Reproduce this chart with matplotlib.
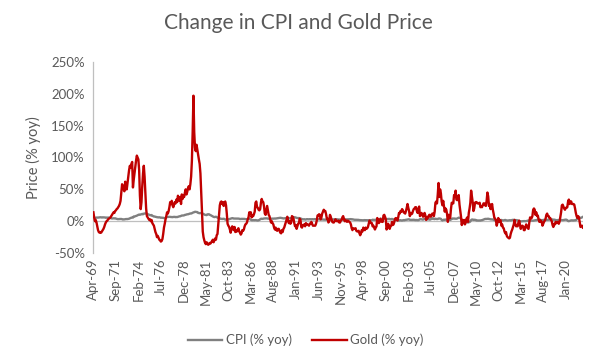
import numpy as np
import pandas as pd
import matplotlib
matplotlib.use("Agg")
import matplotlib.pyplot as plt
from matplotlib.ticker import FuncFormatter

plt.rcParams['font.family'] = ['Lato', 'DejaVu Sans']

# monthly series, Apr-1969 .. Nov-2021 (% yoy), one row per calendar year
gold_yoy = [
    14, 6, 0, 2, -2, -8, -14, -17, -18,                        # 1969 (Apr-Dec)
    -17, -18, -16, -14, -12, -9, -5, -2, 0, 1, 3, 4,            # 1970
    5, 6, 8, 10, 12, 14, 13, 16, 17, 19, 20, 22,                # 1971
    24, 27, 32, 45, 58, 55, 50, 47, 62, 55, 50, 60,             # 1972
    70, 80, 87, 84, 90, 93, 53, 65, 75, 85, 95, 103,            # 1973
    100, 97, 80, 40, 19, 30, 55, 75, 87, 70, 45, 20,            # 1974
    8, 6, 4, 2, 3, 0, 2, -3, -5, -7, -12, -17,                  # 1975
    -20, -25, -23, -26, -29, -30, -32, -31, -28, -20, -10, -4,  # 1976
    3, 8, 14, 12, 16, 22, 30, 27, 32, 25, 22, 26,               # 1977
    30, 28, 34, 30, 40, 36, 32, 38, 27, 42, 35, 40,             # 1978
    38, 45, 50, 42, 46, 52, 55, 50, 58, 70, 95, 140,            # 1979
    197, 140, 115, 110, 120, 112, 105, 97, 90, 75, 47, 16,      # 1980
    -16, -25, -30, -34, -36, -33, -35, -37, -36, -34, -35, -33, # 1981
    -31, -29, -33, -30, -27, -29, -22, -20, -5, 8, 25, 30,      # 1982
    31, 27, 30, 24, 29, 31, 25, 12, -4, -7, -9, -13,            # 1983
    -18, -12, -8, -12, -14, -9, -17, -15, -16, -13, -11, -16,   # 1984
    -18, -21, -19, -14, -15, -13, -8, -5, -4, -2, 3, 6,         # 1985
    14, 12, 14, 6, 9, 8, 11, 15, 29, 31, 22, 21,                # 1986
    18, 17, 19, 29, 35, 31, 30, 23, 12, 10, 17, 24,             # 1987
    17, 10, 8, 3, -2, 0, -3, -5, -10, -13, -10, -14,            # 1988
    -15, -12, -12, -15, -18, -19, -14, -17, -12, -10, -6, -2,   # 1989
    2, 7, 1, -3, 0, -4, -2, 8, 7, 4, -3, -8,                    # 1990
    -6, -12, -8, -4, -3, 4, 2, -9, -10, -6, -6, -5,             # 1991
    -8, -3, -5, -5, -6, -7, -4, -4, -1, -4, -7, -7,             # 1992
    -7, -7, -4, 1, 9, 9, 11, 10, 3, 6, 12, 15,                  # 1993
    18, 16, 16, 11, 4, 4, -2, 0, 10, 7, 3, -1,                  # 1994
    -2, -2, 0, 3, 1, 0, 0, 1, -2, -2, 1, 2,                     # 1995
    6, 8, 4, 0, 2, 0, -1, 1, 0, -1, -2, -5,                     # 1996
    -11, -14, -11, -12, -12, -11, -15, -16, -16, -15, -19, -22, # 1997
    -19, -14, -16, -10, -13, -14, -10, -12, -11, -9, -4, 1,     # 1998
    -1, -3, -3, -8, -7, -10, -13, -10, -8, 5, 0, -3,            # 1999
    -1, 4, 0, -1, -1, 9, 10, 7, 3, -13, -9, -4,                 # 2000
    -7, -12, -8, -7, -1, -6, -5, -1, 4, 5, 4, 1,                # 2001
    6, 13, 12, 16, 15, 19, 17, 14, 13, 12, 16, 21,              # 2002
    27, 21, 16, 8, 13, 11, 12, 16, 19, 20, 22, 22,              # 2003
    16, 13, 19, 23, 8, 10, 13, 11, 7, 11, 13, 9,                # 2004
    2, 4, 7, 6, 10, 10, 7, 9, 12, 12, 8, 15,                    # 2005
    29, 31, 28, 42, 60, 38, 50, 44, 31, 25, 32, 23,             # 2006
    15, 20, 18, 11, -1, 10, 5, 5, 19, 29, 28, 28,               # 2007
    41, 39, 48, 34, 33, 36, 41, 26, 16, 7, -6, 2,               # 2008
    -3, 2, -5, -2, 4, 6, -1, 13, 20, 29, 48, 39,                # 2009
    30, 16, 20, 29, 30, 30, 28, 28, 28, 29, 22, 23,             # 2010
    22, 25, 28, 28, 25, 24, 32, 45, 39, 24, 27, 19,             # 2011
    22, 27, 18, 12, 5, 4, 1, -7, -2, 5, -1, 2,                  # 2012
    1, -7, -5, -10, -11, -16, -19, -17, -23, -25, -26, -27,     # 2013
    -26, -20, -16, -13, -9, -5, 2, -4, -8, -7, -8, -2,          # 2014
    1, -6, -12, -8, -7, -8, -14, -14, -9, -5, -8, -11,          # 2015
    -12, -2, 6, 4, 5, 8, 18, 20, 18, 10, 14, 8,                 # 2016
    9, 3, -1, 2, -1, -1, -7, -4, -1, 1, 4, 10,                  # 2017
    12, 8, 8, 5, 5, 2, 0, -6, -9, -5, -5, -1,                   # 2018
    -3, -1, -2, -4, -1, 6, 14, 25, 26, 23, 20, 18,              # 2019
    21, 21, 22, 31, 34, 27, 31, 31, 27, 27, 27, 26,             # 2020
    20, 13, 8, 5, 8, 6, -2, -9, -8, -7, -10,                    # 2021 (Jan-Nov)
]

cpi_yoy = [
    5.5, 5.5, 5.5, 5.4, 5.7, 5.7, 5.7, 5.9, 6.1,
    6.2, 6.1, 5.8, 6.1, 6.0, 6.0, 5.9, 5.4, 5.7, 5.6, 5.7, 5.6,
    5.3, 5.0, 4.7, 4.2, 4.4, 4.6, 4.4, 4.6, 4.1, 3.8, 3.3, 3.3,
    3.3, 3.5, 3.5, 3.5, 3.2, 2.7, 2.9, 2.9, 3.2, 3.4, 3.4, 3.4,
    3.6, 3.9, 4.6, 5.1, 5.5, 5.9, 5.7, 7.4, 7.4, 7.8, 8.3, 8.7,
    9.4, 10.0, 10.4, 10.1, 10.7, 10.9, 11.5, 10.9, 11.9, 12.1, 12.2, 12.3,
    11.8, 11.2, 10.3, 10.2, 9.5, 9.3, 9.7, 8.6, 7.9, 7.4, 7.4, 6.9,
    6.7, 6.3, 6.1, 6.0, 6.2, 5.9, 5.4, 5.6, 5.4, 5.4, 4.9, 4.9,
    5.2, 6.0, 6.4, 6.9, 6.7, 6.9, 6.8, 6.6, 6.6, 6.4, 6.7, 6.7,
    6.8, 6.4, 6.6, 6.5, 6.9, 7.4, 7.7, 7.8, 8.3, 8.9, 8.9, 9.0,
    9.3, 9.9, 10.1, 10.5, 10.9, 10.9, 11.3, 11.8, 12.2, 12.1, 12.6, 13.3,
    13.9, 14.2, 14.8, 14.7, 14.4, 14.4, 13.1, 12.9, 12.6, 12.8, 12.6, 12.5,
    11.8, 11.4, 10.5, 10.0, 9.8, 9.6, 10.8, 10.8, 11.0, 10.1, 9.6, 8.9,
    8.4, 7.6, 6.8, 6.5, 6.7, 7.1, 6.4, 5.9, 5.0, 5.1, 4.6, 3.8,
    3.7, 3.5, 3.6, 3.9, 3.5, 2.6, 2.5, 2.6, 2.9, 2.9, 3.3, 3.8,
    4.2, 4.6, 4.8, 4.6, 4.2, 4.2, 4.2, 4.3, 4.3, 4.3, 4.1, 3.9,
    3.5, 3.5, 3.7, 3.7, 3.8, 3.8, 3.6, 3.3, 3.1, 3.2, 3.5, 3.8,
    3.9, 3.1, 2.2, 1.6, 1.5, 1.8, 1.6, 1.6, 1.8, 1.5, 1.3, 1.1,
    1.5, 2.1, 3.0, 3.8, 3.9, 3.7, 3.9, 4.3, 4.4, 4.5, 4.5, 4.4,
    4.0, 3.9, 3.9, 3.9, 3.9, 4.0, 4.1, 4.0, 4.2, 4.2, 4.2, 4.4,
    4.7, 4.8, 5.0, 5.1, 5.4, 5.2, 5.0, 4.7, 4.3, 4.5, 4.7, 4.6,
    5.2, 5.3, 5.2, 4.7, 4.4, 4.7, 4.8, 5.6, 6.2, 6.3, 6.3, 6.1,
    5.7, 5.3, 4.9, 4.9, 5.0, 4.7, 4.4, 3.8, 3.4, 2.9, 3.0, 3.1,
    2.6, 2.8, 3.2, 3.2, 3.0, 3.1, 3.2, 3.1, 3.0, 3.2, 3.0, 2.9,
    3.3, 3.2, 3.1, 3.2, 3.2, 3.0, 2.8, 2.8, 2.7, 2.8, 2.7, 2.7,
    2.5, 2.5, 2.5, 2.4, 2.3, 2.5, 2.8, 2.9, 3.0, 2.6, 2.7, 2.7,
    2.8, 2.9, 2.9, 3.1, 3.2, 3.0, 2.8, 2.6, 2.5, 2.8, 2.6, 2.5,
    2.7, 2.7, 2.8, 2.9, 2.9, 2.8, 3.0, 2.9, 3.0, 3.0, 3.3, 3.3,
    3.0, 3.0, 2.8, 2.5, 2.2, 2.3, 2.2, 2.2, 2.2, 2.1, 1.8, 1.7,
    1.6, 1.4, 1.4, 1.4, 1.7, 1.7, 1.7, 1.6, 1.5, 1.5, 1.5, 1.6,
    1.7, 1.6, 1.7, 2.3, 2.1, 2.0, 2.1, 2.3, 2.6, 2.6, 2.6, 2.7,
    2.7, 3.2, 3.8, 3.1, 3.2, 3.7, 3.7, 3.4, 3.5, 3.4, 3.4, 3.4,
    3.7, 3.5, 2.9, 3.3, 3.6, 3.2, 2.7, 2.7, 2.6, 2.1, 1.9, 1.6,
    1.1, 1.1, 1.5, 1.6, 1.2, 1.1, 1.5, 1.8, 1.5, 2.0, 2.2, 2.4,
    2.6, 3.0, 3.0, 2.2, 2.1, 2.1, 2.1, 2.2, 2.3, 2.0, 1.8, 1.9,
    1.9, 1.7, 1.7, 2.3, 3.1, 3.3, 3.0, 2.7, 2.5, 3.2, 3.5, 3.3,
    3.0, 3.0, 3.1, 3.5, 2.8, 2.5, 3.2, 3.6, 4.7, 4.3, 3.5, 3.4,
    4.0, 3.6, 3.4, 3.5, 4.2, 4.3, 4.1, 3.8, 2.1, 1.3, 2.0, 2.5,
    2.1, 2.4, 2.8, 2.6, 2.7, 2.7, 2.4, 2.0, 2.8, 3.5, 4.3, 4.1,
    4.3, 4.0, 4.0, 3.9, 4.2, 5.0, 5.6, 5.4, 4.9, 3.7, 1.1, 0.1,
    0.0, 0.2, -0.4, -0.7, -1.3, -1.4, -2.1, -1.5, -1.3, -0.2, 1.8, 2.7,
    2.6, 2.1, 2.3, 2.2, 2.0, 1.1, 1.2, 1.1, 1.1, 1.2, 1.1, 1.5,
    1.6, 2.1, 2.7, 3.2, 3.6, 3.6, 3.6, 3.8, 3.9, 3.5, 3.4, 3.0,
    2.9, 2.9, 2.7, 2.3, 1.7, 1.7, 1.4, 1.7, 2.0, 2.2, 1.8, 1.7,
    1.6, 2.0, 1.5, 1.1, 1.4, 1.8, 2.0, 1.5, 1.2, 1.0, 1.2, 1.5,
    1.6, 1.1, 1.5, 2.0, 2.1, 2.1, 2.0, 1.7, 1.7, 1.7, 1.3, 0.8,
    -0.1, 0.0, -0.1, -0.2, 0.0, 0.1, 0.2, 0.2, 0.0, 0.2, 0.5, 0.7,
    1.4, 1.0, 0.9, 1.1, 1.0, 1.0, 0.8, 1.1, 1.5, 1.6, 1.7, 2.1,
    2.5, 2.7, 2.4, 2.2, 1.9, 1.6, 1.7, 1.9, 2.2, 2.0, 2.2, 2.1,
    2.1, 2.2, 2.4, 2.5, 2.8, 2.9, 2.9, 2.7, 2.3, 2.5, 2.2, 1.9,
    1.6, 1.5, 1.9, 2.0, 1.8, 1.6, 1.8, 1.7, 1.7, 1.8, 2.1, 2.3,
    2.5, 2.3, 1.5, 0.3, 0.1, 0.6, 1.0, 1.3, 1.4, 1.2, 1.2, 1.4,
    1.4, 1.7, 2.6, 4.2, 5.0, 5.4, 5.4, 5.3, 5.4, 6.2, 6.8,
]

months = pd.date_range("1969-04-01", periods=len(gold_yoy), freq="MS")
month_labels = [d.strftime("%b-%y") for d in months]

text_col = "#595959"
x = np.arange(len(months))

fig = plt.figure(figsize=(6, 3.6), dpi=100)
ax = fig.add_axes([0.155, 0.297, 0.817, 0.531])

ax.axhline(0, color="#bfbfbf", lw=0.9, zorder=1)
ax.plot(x, cpi_yoy, color="#808080", lw=1.7, label="CPI (% yoy)", zorder=2)
ax.plot(x, gold_yoy, color="#c00000", lw=1.7, label="Gold (% yoy)", zorder=3)

ax.set_xlim(-0.5, len(x) - 0.5)
ax.set_ylim(-50, 250)
ax.set_yticks(range(-50, 251, 50))
ax.yaxis.set_major_formatter(FuncFormatter(lambda v, p: f"{v:.0f}%"))

tick_pos = x[::29]
ax.set_xticks(tick_pos)
ax.set_xticklabels([month_labels[i] for i in tick_pos], rotation=90)

for s in ["top", "right", "bottom"]:
    ax.spines[s].set_visible(False)
ax.spines["left"].set_color("#bfbfbf")
ax.spines["left"].set_linewidth(0.9)
ax.tick_params(axis="both", length=0, colors=text_col, labelsize=9.5)
ax.tick_params(axis="y", pad=6)
ax.tick_params(axis="x", pad=4)

ax.set_ylabel("Price (% yoy)", color=text_col, fontsize=10.5, labelpad=7)
fig.suptitle("Change in CPI and Gold Price", x=0.497, y=0.965,
             color=text_col, fontsize=15)

fig.legend(loc="lower center", bbox_to_anchor=(0.51, 0.005), ncol=2,
           frameon=False, fontsize=9.5, labelcolor=text_col,
           handlelength=2.6, handletextpad=0.3, columnspacing=1.5)

fig.savefig("out.png", dpi=100)
